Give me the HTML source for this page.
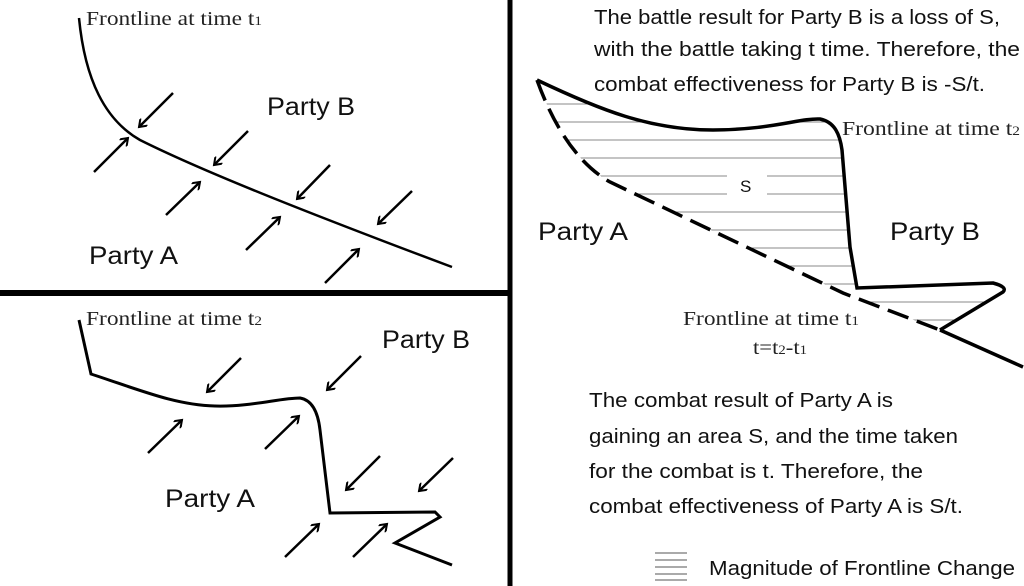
<!DOCTYPE html>
<html><head><meta charset="utf-8"><style>
html,body{margin:0;padding:0;background:#fff;}
svg{display:block;}
.s{font-family:"Liberation Sans",sans-serif;fill:#111;}
.r{font-family:"Liberation Serif",serif;fill:#222;}
</style></head><body>
<svg width="1024" height="586" viewBox="0 0 1024 586" xmlns="http://www.w3.org/2000/svg">
<defs>
<marker id="ah" markerWidth="10" markerHeight="10" refX="8" refY="5" orient="auto" markerUnits="userSpaceOnUse">
<path d="M1,0 L8,5 L1,10" fill="none" stroke="#000" stroke-width="2"/>
</marker>
<clipPath id="reg">
<path d="M537,80 C600,110 650,130 713,130 C770,130 800,118 820,119 C835,122 840,135 842,150 L850,247 L857,288 L993,283 L1003,290 L940,330 L843,293 L610,182 C580,165 555,130 537,80 Z"/>
</clipPath>
</defs>
<line x1="0" y1="293" x2="510" y2="293" stroke="#000" stroke-width="6"/>
<line x1="510" y1="0" x2="510" y2="586" stroke="#000" stroke-width="5"/>

<!-- top-left -->
<path d="M79,18 C85,80 105,120 140,140 C200,170 300,210 452,267" fill="none" stroke="#000" stroke-width="2.5"/>
<g stroke="#000" stroke-width="2.5" marker-end="url(#ah)">
<line x1="173" y1="93" x2="139" y2="127"/>
<line x1="248" y1="131" x2="214" y2="165"/>
<line x1="330" y1="165" x2="297" y2="199"/>
<line x1="412" y1="191" x2="378" y2="224"/>
<line x1="94" y1="172" x2="128" y2="138"/>
<line x1="166" y1="215" x2="200" y2="182"/>
<line x1="246" y1="250" x2="280" y2="217"/>
<line x1="325" y1="283" x2="359" y2="249"/>
</g>
<text class="r" x="86" y="25" font-size="20" textLength="176" lengthAdjust="spacingAndGlyphs">Frontline at time t<tspan font-size="13">1</tspan></text>
<text class="s" x="267" y="115" font-size="25" textLength="88" lengthAdjust="spacingAndGlyphs">Party B</text>
<text class="s" x="89" y="264" font-size="25" textLength="89" lengthAdjust="spacingAndGlyphs">Party A</text>

<!-- bottom-left -->
<path d="M79,320 L91,374 C140,390 175,405 215,406 C250,407 280,398 300,398 C312,400 318,412 320,430 L330,513 L435,512 L440,517 L395,543 L452,565" fill="none" stroke="#000" stroke-width="3"/>
<g stroke="#000" stroke-width="2.5" marker-end="url(#ah)">
<line x1="241" y1="358" x2="207" y2="392"/>
<line x1="361" y1="356" x2="327" y2="390"/>
<line x1="380" y1="456" x2="346" y2="490"/>
<line x1="453" y1="458" x2="419" y2="491"/>
<line x1="148" y1="453" x2="182" y2="420"/>
<line x1="265" y1="449" x2="299" y2="416"/>
<line x1="285" y1="557" x2="319" y2="524"/>
<line x1="353" y1="557" x2="387" y2="524"/>
</g>
<text class="r" x="86" y="325" font-size="20" textLength="176" lengthAdjust="spacingAndGlyphs">Frontline at time t<tspan font-size="13">2</tspan></text>
<text class="s" x="382" y="348" font-size="25" textLength="88" lengthAdjust="spacingAndGlyphs">Party B</text>
<text class="s" x="165" y="507" font-size="25" textLength="90" lengthAdjust="spacingAndGlyphs">Party A</text>

<!-- right -->
<g class="s" font-size="20">
<text x="594" y="24" textLength="406" lengthAdjust="spacingAndGlyphs">The battle result for Party B is a loss of S,</text>
<text x="594" y="56" textLength="426" lengthAdjust="spacingAndGlyphs">with the battle taking t time. Therefore, the</text>
<text x="594" y="91" textLength="391" lengthAdjust="spacingAndGlyphs">combat effectiveness for Party B is -S/t.</text>
</g>
<g clip-path="url(#reg)" stroke="#888" stroke-width="1">
<line x1="510" y1="104" x2="1024" y2="104"/>
<line x1="510" y1="122" x2="1024" y2="122"/>
<line x1="510" y1="140" x2="1024" y2="140"/>
<line x1="510" y1="158" x2="1024" y2="158"/>
<line x1="510" y1="176" x2="1024" y2="176"/>
<line x1="510" y1="194" x2="1024" y2="194"/>
<line x1="510" y1="212" x2="1024" y2="212"/>
<line x1="510" y1="230" x2="1024" y2="230"/>
<line x1="510" y1="248" x2="1024" y2="248"/>
<line x1="510" y1="266" x2="1024" y2="266"/>
<line x1="510" y1="284" x2="1024" y2="284"/>
<line x1="510" y1="302" x2="1024" y2="302"/>
<line x1="510" y1="320" x2="1024" y2="320"/>
</g>
<rect x="727" y="170" width="40" height="30" fill="#fff"/>
<text class="s" x="740" y="192" font-size="17">S</text>
<path d="M537,80 C600,110 650,130 713,130 C770,130 800,118 820,119 C835,122 840,135 842,150 L850,247 L857,288 L993,283 Q1008,287 1003,292 L940,330" fill="none" stroke="#000" stroke-width="3.5"/>
<path d="M537,80 C555,130 580,165 610,182 L843,293 L940,330" fill="none" stroke="#000" stroke-width="3.5" stroke-dasharray="22,9"/>
<line x1="940" y1="330" x2="1023" y2="367" stroke="#000" stroke-width="3.5"/>
<text class="r" x="842" y="135" font-size="20" textLength="178" lengthAdjust="spacingAndGlyphs">Frontline at time t<tspan font-size="13">2</tspan></text>
<text class="s" x="538" y="240" font-size="25" textLength="90" lengthAdjust="spacingAndGlyphs">Party A</text>
<text class="s" x="890" y="240" font-size="25" textLength="90" lengthAdjust="spacingAndGlyphs">Party B</text>
<text class="r" x="683" y="325" font-size="20" textLength="176" lengthAdjust="spacingAndGlyphs">Frontline at time t<tspan font-size="13">1</tspan></text>
<text class="r" x="753" y="354" font-size="20" textLength="54" lengthAdjust="spacingAndGlyphs">t=t<tspan font-size="13">2</tspan>-t<tspan font-size="13">1</tspan></text>
<g class="s" font-size="20">
<text x="589" y="407" textLength="304" lengthAdjust="spacingAndGlyphs">The combat result of Party A is</text>
<text x="589" y="443" textLength="369" lengthAdjust="spacingAndGlyphs">gaining an area S, and the time taken</text>
<text x="589" y="478" textLength="334" lengthAdjust="spacingAndGlyphs">for the combat is t. Therefore, the</text>
<text x="589" y="513" textLength="374" lengthAdjust="spacingAndGlyphs">combat effectiveness of Party A is S/t.</text>
<text x="709" y="575" textLength="306" lengthAdjust="spacingAndGlyphs">Magnitude of Frontline Change</text>
</g>
<g stroke="#555" stroke-width="1">
<line x1="655" y1="553" x2="687" y2="553"/>
<line x1="655" y1="560" x2="687" y2="560"/>
<line x1="655" y1="567" x2="687" y2="567"/>
<line x1="655" y1="574" x2="687" y2="574"/>
<line x1="655" y1="580" x2="687" y2="580"/>
</g>
</svg>
</body></html>
